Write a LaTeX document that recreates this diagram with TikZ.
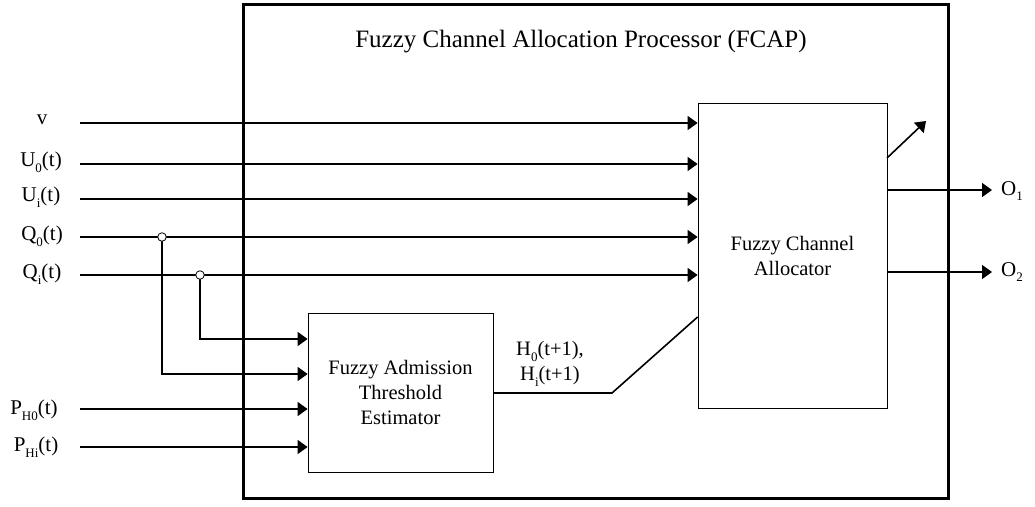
\documentclass[tikz,border=0pt]{standalone}
\usepackage{fontspec}
\setmainfont{Liberation Serif}
\usetikzlibrary{arrows.meta}
\newcommand{\lowsub}[1]{\raisebox{-0.28em}{\fontsize{13}{13}\selectfont #1}}
\tikzset{
  lbl/.style={font=\fontsize{21}{24}\selectfont, inner sep=0pt},
  sig/.style={line width=1.6pt},
  sigarr/.style={sig, -{Triangle[length=10pt,width=14pt]}},
  blk/.style={draw, line width=0.8pt, inner sep=0pt, align=center, font=\fontsize{20.5}{25}\selectfont},
  jn/.style={circle, draw, fill=white, line width=0.8pt, minimum size=8.5pt, inner sep=0pt},
}
\begin{document}
\begin{tikzpicture}[x=1pt,y=-1pt]
\useasboundingbox (0,0) rectangle (1035,506);
% outer processor box
\draw[line width=3pt] (243,4) rectangle (948,498);
\node[lbl, font=\fontsize{25}{28}\selectfont] (title) at (581,42) {Fuzzy Channel Allocation Processor (FCAP)};
% blocks
\node[blk, minimum width=189pt, minimum height=305pt] (alloc) at (792.5,255.5) {Fuzzy Channel\\Allocator};
\node[blk, minimum width=185pt, minimum height=159pt] (est) at (400.5,392.5) {Fuzzy Admission\\Threshold\\Estimator};
% input labels
\node[lbl] (lv) at (42,120) {v};
\node[lbl] (lu0) at (41,162) {U\lowsub{0}(t)};
\node[lbl] (lui) at (41,197) {U\lowsub{i}(t)};
\node[lbl] (lq0) at (42,236) {Q\lowsub{0}(t)};
\node[lbl] (lqi) at (42,274) {Q\lowsub{i}(t)};
\node[lbl] (lph0) at (34,410) {P\lowsub{H0}(t)};
\node[lbl] (lphi) at (36,447) {P\lowsub{Hi}(t)};
% line start coordinates
\coordinate (sv) at (80,123);
\coordinate (su0) at (80,164);
\coordinate (sui) at (80,199);
\coordinate (sq0) at (80,237);
\coordinate (sqi) at (80,275);
\coordinate (sph0) at (80,409);
\coordinate (sphi) at (80,447);
% inputs to allocator
\draw[sigarr] (sv) -- (alloc.west |- sv);
\draw[sigarr] (su0) -- (alloc.west |- su0);
\draw[sigarr] (sui) -- (alloc.west |- sui);
\draw[sigarr] (sq0) -- (alloc.west |- sq0);
\draw[sigarr] (sqi) -- (alloc.west |- sqi);
% taps to estimator
\coordinate (j0) at (162,237);
\coordinate (ji) at (200,275);
\coordinate (e1) at (308,339);
\coordinate (e2) at (308,374);
\draw[sigarr] (ji) |- (est.west |- e1);
\draw[sigarr] (j0) |- (est.west |- e2);
\draw[sigarr] (sph0) -- (est.west |- sph0);
\draw[sigarr] (sphi) -- (est.west |- sphi);
\node[jn] (jn0) at (j0) {};
\node[jn] (jni) at (ji) {};
% estimator output to allocator
\coordinate (bend) at (612,393);
\coordinate (ain) at (698,317);
\draw[sig] (est.east |- bend) -- (bend) -- (alloc.west |- ain);
\node[lbl, align=center, font=\fontsize{20.5}{25}\selectfont] (hlbl) at (550,364) {H\lowsub{0}(t+1),\\H\lowsub{i}(t+1)};
% outputs
\coordinate (aout) at (887,158);
\coordinate (diag) at (926,121);
\draw[sigarr] (aout) -- (diag);
\node[lbl] (lo1) at (1012,191) {O\lowsub{1}};
\node[lbl] (lo2) at (1012,272) {O\lowsub{2}};
\coordinate (o1end) at (992,190);
\coordinate (o2end) at (992,272);
\draw[sigarr] (alloc.east |- o1end) -- (o1end);
\draw[sigarr] (alloc.east |- o2end) -- (o2end);
\end{tikzpicture}
\end{document}
